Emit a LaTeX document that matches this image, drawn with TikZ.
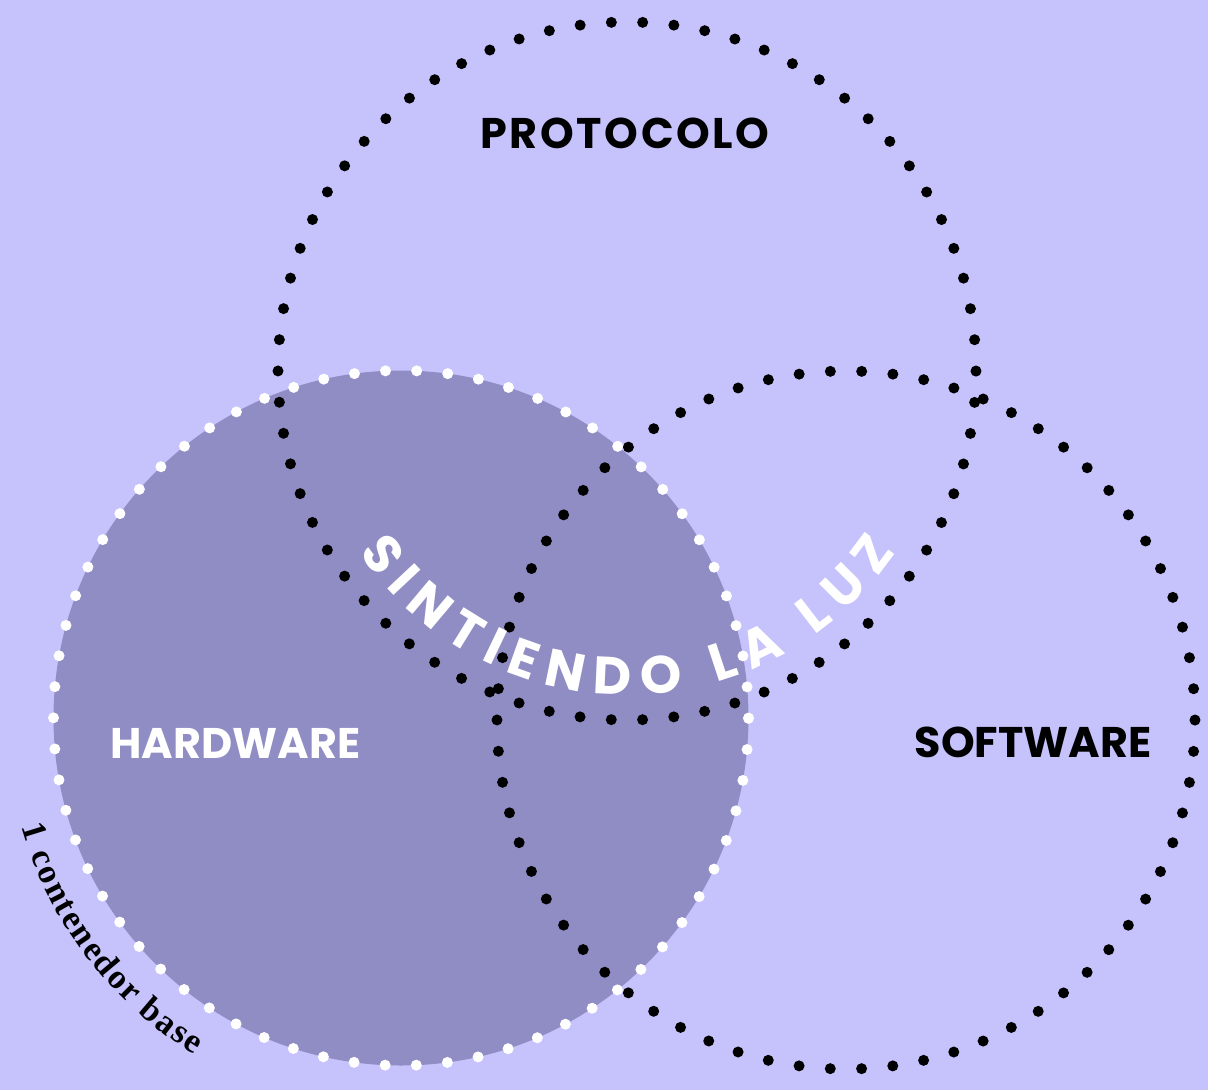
\documentclass[tikz,border=0pt]{standalone}
\usepackage{fontspec}
\usepackage{tikz}
\usetikzlibrary{decorations.text}

\newfontfamily\venfont{Poppins}
\newfontfamily\notefont{Liberation Serif}
\definecolor{bgcol}{RGB}{198,194,252}
\definecolor{hwfill}{RGB}{144,140,196}

\begin{document}
\begin{tikzpicture}[
    ring/.style={circle, minimum size=6.98cm, inner sep=0pt, line width=0.11cm,
        line cap=round, dash pattern=on 0pt off 0.3133cm},
    setname/.style={font=\venfont\bfseries\fontsize{12.2pt}{14pt}\selectfont, inner sep=0pt}
]
    \fill[bgcol] (0,0) rectangle (12.08,-10.90);

    \node[ring, minimum size=6.95cm, fill=hwfill, draw=white,
        dash pattern=on 0pt off 0.3119cm] (hw) at (4.01,-7.18) {};
    \node[ring, draw=black] (proto) at (6.27,-3.71) {};
    \node[ring, draw=black] (soft) at (8.46,-7.20) {};

    \node[setname] (protolbl) at (6.25,-1.33) {\addfontfeature{LetterSpace=6}PROTOCOLO};
    \node[setname, text=white] (hwlbl) at (2.355,-7.43) {HARDWARE};
    \node[setname] (softlbl) at (10.33,-7.42) {SOFTWARE};

    \path[decorate, decoration={text along path, text align=fit to path,
        text={|\venfont\bfseries\fontsize{15pt}{17pt}\selectfont\color{white}|SINTIENDO LA LUZ}}]
        ([shift={(214:3.24cm)}]proto.center) arc[start angle=214, end angle=326, radius=3.24cm];

    \path[decorate, decoration={text along path, text align=fit to path,
        text={|\notefont\bfseries\fontsize{9.8pt}{12pt}\selectfont|1 contenedor base}}]
        ([shift={(196:3.95cm)}]hw.center) arc[start angle=196, end angle=238.5, radius=3.95cm];
\end{tikzpicture}
\end{document}
